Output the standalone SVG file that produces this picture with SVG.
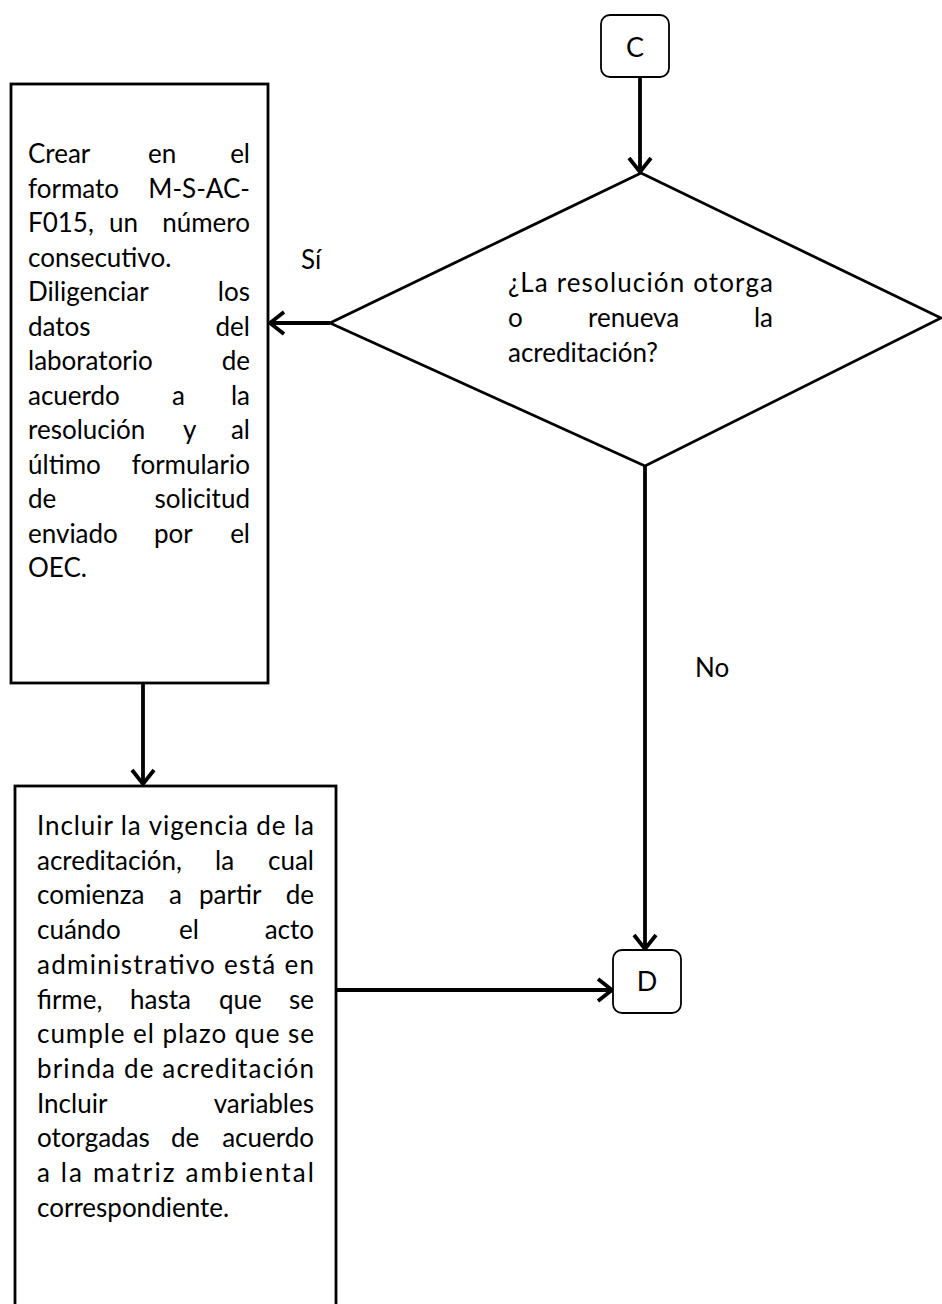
<svg xmlns="http://www.w3.org/2000/svg" width="942" height="1304" viewBox="0 0 942 1304">
<defs>
<style>
.box{fill:#fff;stroke:#000;stroke-width:2.8}
.term{fill:#fff;stroke:#000;stroke-width:1.8}
.dec{fill:#fff;stroke:#000;stroke-width:2.8;stroke-linejoin:miter}
.conn{fill:none;stroke:#000;stroke-width:3.8;marker-end:url(#arr)}
.t{font-family:Lato,"Liberation Sans",sans-serif;font-size:26px;fill:#000}
.lbl{font-family:Lato,"Liberation Sans",sans-serif;font-size:27px;fill:#000}
.e{text-anchor:end}
.m{text-anchor:middle}
</style>
<marker id="arr" markerUnits="userSpaceOnUse" markerWidth="22" markerHeight="26" refX="17" refY="13" orient="auto">
<path d="M3,2 L17,13 L3,24" fill="none" stroke="#000" stroke-width="3.8"/>
</marker>
</defs>
<rect width="942" height="1304" fill="#fff"/>

<g id="connectors">
<path class="conn" d="M640,77 V172"/>
<path class="conn" d="M330,323 H270"/>
<path class="conn" d="M143,683 V784"/>
<path class="conn" d="M645,466 V949"/>
<path class="conn" d="M336,990 H612"/>
</g>

<g id="nodeC">
<rect class="term" x="601" y="15" width="68" height="62" rx="9"/>
<text class="lbl m" x="635" y="57">C</text>
</g>

<g id="decision">
<polygon class="dec" points="641,173 941,318 645,466 330,323"/>
<text class="t" x="508" y="292" textLength="265" lengthAdjust="spacing">¿La resolución otorga</text>
<text class="t" x="508" y="327">o</text>
<text class="t" x="588" y="327">renueva</text>
<text class="t e" x="773" y="327">la</text>
<text class="t" x="508" y="362">acreditación?</text>
</g>

<g id="labelSi"><text class="t" x="301" y="269">Sí</text></g>
<g id="labelNo"><text class="t" x="695" y="677">No</text></g>

<g id="box1">
<rect class="box" x="11" y="84" width="257" height="599"/>
<text class="t" x="28" y="163">Crear</text><text class="t" x="148" y="163">en</text><text class="t e" x="250" y="163">el</text>
<text class="t" x="28" y="197.5">formato</text><text class="t e" x="250" y="197.5">M-S-AC-</text>
<text class="t" x="28" y="232">F015,</text><text class="t" x="109" y="232">un</text><text class="t e" x="250" y="232">número</text>
<text class="t" x="28" y="266.5">consecutivo.</text>
<text class="t" x="28" y="301">Diligenciar</text><text class="t e" x="250" y="301">los</text>
<text class="t" x="28" y="335.5">datos</text><text class="t e" x="250" y="335.5">del</text>
<text class="t" x="28" y="370">laboratorio</text><text class="t e" x="250" y="370">de</text>
<text class="t" x="28" y="404.5">acuerdo</text><text class="t" x="172" y="404.5">a</text><text class="t e" x="250" y="404.5">la</text>
<text class="t" x="28" y="439">resolución</text><text class="t" x="183" y="439">y</text><text class="t e" x="250" y="439">al</text>
<text class="t" x="28" y="473.5">último</text><text class="t e" x="250" y="473.5">formulario</text>
<text class="t" x="28" y="508">de</text><text class="t e" x="250" y="508">solicitud</text>
<text class="t" x="28" y="542.5">enviado</text><text class="t" x="154" y="542.5">por</text><text class="t e" x="250" y="542.5">el</text>
<text class="t" x="28" y="577">OEC.</text>
</g>

<g id="box2">
<rect class="box" x="15" y="786" width="321" height="540"/>
<text class="t" x="37" y="835" textLength="277" lengthAdjust="spacing">Incluir la vigencia de la</text>
<text class="t" x="37" y="869.7">acreditación,</text><text class="t" x="215" y="869.7">la</text><text class="t e" x="314" y="869.7">cual</text>
<text class="t" x="37" y="904.4">comienza</text><text class="t" x="169" y="904.4">a</text><text class="t" x="199" y="904.4">partir</text><text class="t e" x="314" y="904.4">de</text>
<text class="t" x="37" y="939.1">cuándo</text><text class="t" x="179" y="939.1">el</text><text class="t e" x="314" y="939.1">acto</text>
<text class="t" x="37" y="973.8" textLength="277" lengthAdjust="spacing">administrativo está en</text>
<text class="t" x="37" y="1008.5">firme,</text><text class="t" x="130" y="1008.5">hasta</text><text class="t" x="219" y="1008.5">que</text><text class="t e" x="314" y="1008.5">se</text>
<text class="t" x="37" y="1043.2" textLength="277" lengthAdjust="spacing">cumple el plazo que se</text>
<text class="t" x="37" y="1077.9" textLength="277" lengthAdjust="spacing">brinda de acreditación</text>
<text class="t" x="37" y="1112.6">Incluir</text><text class="t e" x="314" y="1112.6">variables</text>
<text class="t" x="37" y="1147.3">otorgadas</text><text class="t" x="171" y="1147.3">de</text><text class="t e" x="314" y="1147.3">acuerdo</text>
<text class="t" x="37" y="1182" textLength="277" lengthAdjust="spacing">a la matriz  ambiental</text>
<text class="t" x="37" y="1216.7">correspondiente.</text>
</g>

<g id="nodeD">
<rect class="term" x="613" y="950" width="68" height="63" rx="9"/>
<text class="lbl m" x="647" y="991">D</text>
</g>
</svg>
